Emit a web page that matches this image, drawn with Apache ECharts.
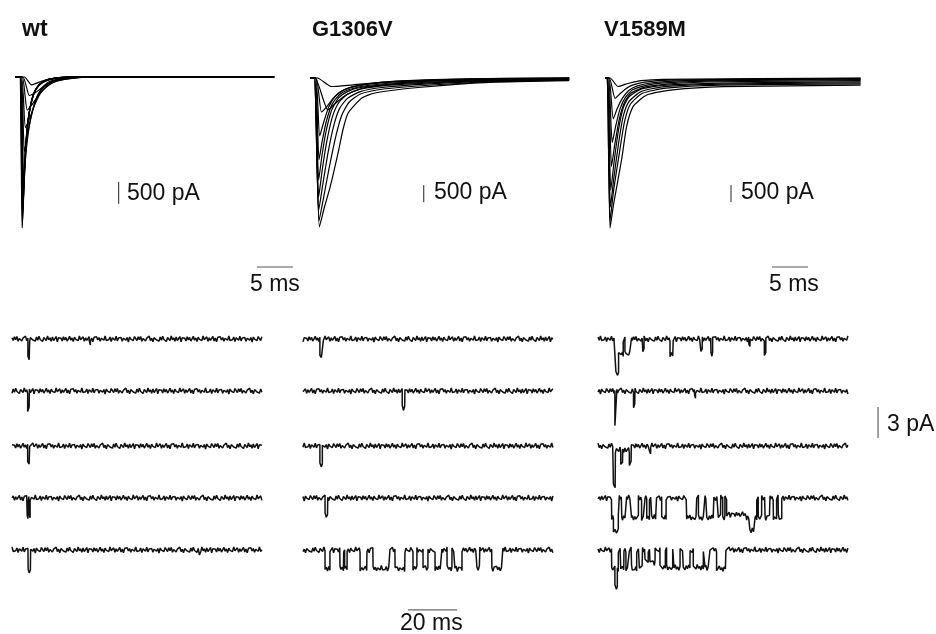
<!DOCTYPE html>
<html>
<head>
<meta charset="utf-8">
<script src="https://cdn.jsdelivr.net/npm/echarts@6/dist/echarts.min.js"></script>
<style>
  html, body { margin: 0; padding: 0; background: #fff; }
  #chart { width: 936px; height: 634px; }
</style>
</head>
<body>
<div id="chart"></div>
<script>
// ---- whole-cell current families, [time ms, current pA] ----
const wtFamily = [
  [[0,0],[0.65,0],[1.0,-3430],[1.3,-2100],[1.6,-1300],[2.1,-700],[2.8,-300],[4,-90],[6,-20],[9,0],[36,0]],
  [[0,0],[0.68,0],[1.02,-3380],[1.25,-2500],[1.5,-1600],[1.9,-900],[2.6,-380],[3.8,-110],[6,-20],[9,0],[36,0]],
  [[0,0],[0.7,0],[1.05,-3200],[1.35,-2000],[1.7,-1150],[2.2,-600],[3,-250],[4.5,-60],[7,0],[36,0]],
  [[0,0],[0.72,0],[1.08,-3050],[1.3,-2300],[1.6,-1450],[2.0,-800],[2.7,-330],[4,-90],[7,0],[36,0]],
  [[0,0],[0.75,0],[1.1,-2800],[1.4,-1800],[1.8,-1000],[2.4,-500],[3.2,-200],[5,-40],[8,0],[36,0]],
  [[0,0],[0.78,0],[1.15,-2550],[1.45,-1700],[1.85,-950],[2.5,-430],[3.4,-160],[5.5,-30],[8,0],[36,0]],
  [[0,0],[0.8,0],[1.2,-2300],[1.6,-1600],[2.1,-1000],[2.8,-550],[3.6,-280],[4.6,-120],[6.5,-30],[9,0],[36,0]],
  [[0,0],[0.85,0],[1.3,-1700],[1.8,-1250],[2.4,-800],[3.1,-450],[4,-230],[5.2,-100],[7,-30],[10,0],[36,0]],
  [[0,0],[0.9,0],[1.45,-1150],[2.0,-950],[2.7,-650],[3.5,-380],[4.5,-200],[6,-80],[8.5,-20],[11,0],[36,0]],
  [[0,0],[1.0,0],[1.7,-750],[2.4,-620],[3.2,-430],[4.2,-250],[5.4,-120],[7.5,-40],[10,0],[36,0]],
  [[0,0],[1.1,0],[2.0,-420],[2.8,-360],[3.7,-250],[4.8,-140],[6.3,-60],[9,-10],[12,0],[36,0]],
  [[0,0],[1.3,0],[2.3,-180],[3.0,-140],[4,-80],[5.5,-30],[8,0],[36,0]]
];
const g1306vFamily = [
  [[0,0],[0.6,0],[1.3,-4380],[2.0,-3800],[2.8,-3200],[3.9,-2200],[4.6,-1500],[5.3,-1030],[7.2,-590],[9,-440],[15,-280],[25,-130],[36,-80]],
  [[0,0],[0.6,0],[1.25,-4200],[1.9,-3500],[2.7,-2600],[3.6,-1700],[4.4,-1100],[5.4,-720],[7,-470],[10,-330],[16,-220],[25,-110],[36,-60]],
  [[0,0],[0.6,0],[1.2,-3900],[1.8,-3100],[2.5,-2200],[3.3,-1400],[4.1,-900],[5.2,-600],[7,-400],[10,-280],[16,-180],[25,-90],[36,-50]],
  [[0,0],[0.65,0],[1.2,-3500],[1.7,-2700],[2.3,-1900],[3.1,-1150],[4,-720],[5.2,-480],[7,-330],[10,-230],[16,-150],[25,-70],[36,-40]],
  [[0,0],[0.7,0],[1.2,-3000],[1.65,-2300],[2.2,-1600],[3.0,-950],[4,-580],[5.2,-400],[7,-280],[11,-190],[18,-110],[36,-30]],
  [[0,0],[0.75,0],[1.25,-2400],[1.7,-1850],[2.3,-1250],[3.1,-760],[4.2,-470],[5.6,-330],[8,-220],[12,-140],[20,-70],[36,-20]],
  [[0,0],[0.8,0],[1.35,-1700],[1.9,-1300],[2.6,-850],[3.5,-540],[4.7,-350],[6.5,-240],[9,-160],[14,-90],[36,-10]],
  [[0,0],[0.85,0],[1.6,-1000],[2.3,-850],[3.2,-600],[4.3,-400],[5.8,-260],[8,-170],[12,-90],[20,-30],[36,0]],
  [[0,0],[0.7,0],[2.5,-940],[3.5,-750],[5,-500],[7,-320],[9,-240],[14,-120],[22,-40],[36,0]],
  [[0,0],[1.0,0],[3,-250],[6,-200],[12,-100],[24,-20],[36,0]]
];
const v1589mFamily = [
  [[0,0],[0.3,0],[0.7,-4410],[1.2,-3700],[2.3,-2410],[3.0,-1430],[3.9,-840],[5.8,-500],[9.4,-350],[16.4,-255],[35.5,-210]],
  [[0,0],[0.3,0],[0.7,-4200],[1.2,-3300],[2.0,-2200],[2.7,-1300],[3.5,-780],[5.2,-450],[8.5,-300],[16,-210],[35.5,-170]],
  [[0,0],[0.35,0],[0.75,-3800],[1.25,-2900],[1.9,-1900],[2.5,-1150],[3.3,-700],[5,-400],[8,-260],[16,-180],[35.5,-140]],
  [[0,0],[0.4,0],[0.8,-3300],[1.3,-2400],[1.9,-1500],[2.5,-900],[3.3,-560],[5,-330],[8,-220],[16,-150],[35.5,-110]],
  [[0,0],[0.45,0],[0.9,-2600],[1.4,-1900],[2.0,-1200],[2.7,-720],[3.6,-450],[5.5,-270],[9,-170],[16,-110],[35.5,-80]],
  [[0,0],[0.5,0],[1.0,-1900],[1.5,-1400],[2.1,-900],[2.9,-550],[3.9,-340],[6,-200],[10,-120],[20,-70],[35.5,-50]],
  [[0,0],[0.55,0],[1.15,-1200],[1.7,-900],[2.4,-600],[3.3,-370],[4.5,-230],[7,-130],[12,-70],[35.5,-30]],
  [[0,0],[0.6,0],[1.4,-600],[2.0,-480],[2.8,-330],[3.8,-210],[5.5,-120],[9,-60],[35.5,-10]],
  [[0,0],[0.7,0],[1.8,-250],[2.6,-200],[3.6,-140],[5,-80],[8,-40],[35.5,0]]
];

// ---- single-channel sweeps: openings as [start ms, end ms, amplitude pA] ----
const wtOpenings = [
  [[6.5,7.2,1.75],[31.5,32.0,0.4]],
  [[6.4,7.1,1.75]],
  [[6.4,7.2,1.7]],
  [[6.2,6.7,1.9],[6.9,7.4,1.7]],
  [[6.6,7.6,2.0],[76.5,77.1,0.5]]
];
const g1306vOpenings = [
  [[6.9,8.3,1.75]],
  [[40.5,41.6,1.6]],
  [[6.9,7.9,1.8]],
  [[9.0,10.1,1.7]],
  [[9.0,11.0,1.8],[15.1,16.6,1.8],[17.0,18.0,1.8],[23.3,26.1,1.8],[28.6,35.5,1.8],[37.6,41.6,1.8],
   [44.9,46.5,1.8],[49.0,51.0,1.8],[53.9,56.7,1.8],[58.8,60.8,1.8],[62.0,64.9,1.8],[71.0,72.2,1.8],[77.1,81.6,1.8]]
];
const v1589mOpenings = [
  [[7.3,10.3,1.4],[7.3,8.4,1.9],[11.0,13.7,1.4],[18.3,18.8,1.2],[29.4,30.7,1.5],[42.0,42.6,1.2],[46.1,46.8,1.4],[61.6,62.1,0.7],[67.9,68.5,1.4]],
  [[6.9,7.7,3.4],[14.5,15.1,1.5],[39.4,39.8,0.5]],
  [[6.3,7.1,3.8],[7.1,12.8,0.4],[9.3,10.1,1.3],[12.8,13.6,1.6],[21.0,21.5,0.6]],
  [[5.6,8.7,1.9],[6.3,8.3,1.3],[9.7,11.7,1.9],[13.7,16.5,1.9],[17.8,19.2,1.9],[19.9,21.0,1.9],[21.9,23.9,1.9],[26.0,27.8,1.9],
   [36.2,40.3,1.9],[41.0,43.7,1.9],[44.4,47.3,1.9],[49.1,50.1,1.9],[50.9,51.8,1.9],[52.5,60.7,1.6],[60.7,64.8,1.9],[62.0,64.1,1.3],
   [65.4,66.8,1.9],[68.2,70.2,1.9],[71.6,72.9,1.9],[73.6,75.0,1.9]],
  [[5.6,8.3,1.8],[6.9,7.9,1.8],[9.3,10.6,1.8],[11.4,12.8,1.8],[13.7,15.8,1.8],[16.9,18.2,1.8],[19.2,20.5,1.0],[21.2,23.3,1.2],
   [25.3,27.5,1.7],[28.0,30.5,1.7],[31.0,33.5,1.7],[34.8,37.6,1.7],[38.9,43.0,1.7],[43.7,45.7,1.7],[48.4,52.2,1.8]]
];
const noisePA = [
  0.12,-0.15,0.21,-0.06,0.25,-0.22,0.05,0.16,-0.19,0.09,
  -0.03,0.28,-0.16,0.08,-0.26,0.13,0.23,-0.10,0.03,-0.21,
  0.19,-0.12,0.26,-0.05,0.10,-0.24,0.15,0.01,-0.14,0.30,
  -0.08,0.12,-0.23,0.20,-0.15,0.04,0.24,-0.28,0.13,-0.02,
  0.08,-0.19,0.22,-0.09,0.15,-0.20,0.02,0.26,-0.12,0.10,
  -0.25,0.18,-0.04,0.13,-0.16,0.29,-0.07,0.00,0.21,-0.23,
  0.11,-0.14,0.05,0.24,-0.19,0.09,-0.27,0.16,-0.03,0.22,
  -0.10,0.14,-0.21,0.07,0.19,-0.12,0.30,-0.15,0.02,-0.08,
  0.20,-0.24,0.12,0.04,-0.13,0.26,-0.18,0.10,-0.05,0.15,
  -0.22,0.07,0.23,-0.11,0.14,-0.29,0.19,-0.02,0.09,-0.16,0.24
];
const sweepLength = 102; // ms
const titles = ['wt', 'G1306V', 'V1589M'];
const currentBar = 500;  // pA
const topTimeBar = 5;    // ms
const sweepTimeBar = 20; // ms
const channelBar = 3;    // pA

// ---- layout ----
const msPxTop = 7.2;
const topPanels = [
  { x0: 15, base: 77, pApx: 22.7, family: wtFamily, bar: [14.4, -2380], timeBar: [33.6, -4313] },
  { x0: 310, base: 78, pApx: 29.4, family: g1306vFamily, bar: [15.8, -3150] },
  { x0: 605, base: 78, pApx: 29.4, family: v1589mFamily, bar: [17.5, -3150], timeBar: [23.2, -5557] }
];
const msPxBottom = 2.45, pApxBottom = 1 / 10.33;
const sweepBases = [339, 391, 446, 498, 550];
const bottomPanels = [
  { x0: 12, sweeps: wtOpenings },
  { x0: 303, sweeps: g1306vOpenings, timeBar: [4, 42.9, -5.8] },
  { x0: 598, sweeps: v1589mOpenings, channelBar: [1, 114.3, -1.55] }
];

const grids = [], xAxis = [], yAxis = [], series = [];
function addGrid(left, top, width, height, xMax, yMin, yMax) {
  const i = grids.length;
  grids.push({ left, top, width, height });
  xAxis.push({ type: 'value', gridIndex: i, min: 0, max: xMax, show: false });
  yAxis.push({ type: 'value', gridIndex: i, min: yMin, max: yMax, show: false });
  return i;
}
function addLine(gi, data, width, color) {
  series.push({
    type: 'line', xAxisIndex: gi, yAxisIndex: gi, data, showSymbol: false, silent: true,
    smooth: 0.2, lineStyle: { color: color || '#000', width: width || 1 }
  });
}

topPanels.forEach(p => {
  const yMax = 200, yMin = -6000, xMax = 40;
  const gi = addGrid(p.x0, p.base - yMax / p.pApx, xMax * msPxTop, (yMax - yMin) / p.pApx, xMax, yMin, yMax);
  p.family.forEach(tr => addLine(gi, tr, 1.2));
  series.push({ type: 'line', xAxisIndex: gi, yAxisIndex: gi, showSymbol: false, silent: true,
    data: [[p.bar[0], p.bar[1]], [p.bar[0], p.bar[1] - currentBar]], lineStyle: { color: '#222', width: 1 } });
  if (p.timeBar) {
    series.push({ type: 'line', xAxisIndex: gi, yAxisIndex: gi, showSymbol: false, silent: true,
      data: [[p.timeBar[0], p.timeBar[1]], [p.timeBar[0] + topTimeBar, p.timeBar[1]]], lineStyle: { color: '#555', width: 1 } });
  }
});

function sweep(openings, phase) {
  const times = [];
  for (let k = 0; k <= sweepLength * 2; k++) times.push(k * 0.5);
  openings.forEach(([a, b]) => times.push(a - 0.01, a, b - 0.01, b));
  times.sort((p, q) => p - q);
  return times.map(t => {
    let v = noisePA[(Math.round(t * 2) + phase) % noisePA.length];
    openings.forEach(([a, b, d]) => { if (t >= a && t < b) v -= d; });
    return [t, +v.toFixed(3)];
  });
}

bottomPanels.forEach((p, pi) => {
  p.sweeps.forEach((ops, si) => {
    const yMax = 1, yMin = -7, xMax = 120;
    const gi = addGrid(p.x0, sweepBases[si] - yMax / pApxBottom, xMax * msPxBottom, (yMax - yMin) / pApxBottom, xMax, yMin, yMax);
    series.push({ type: 'line', xAxisIndex: gi, yAxisIndex: gi, showSymbol: false, silent: true,
      data: sweep(ops, pi * 37 + si * 19), lineStyle: { color: '#111', width: 1.5 } });
    if (p.timeBar && p.timeBar[0] === si) {
      series.push({ type: 'line', xAxisIndex: gi, yAxisIndex: gi, showSymbol: false, silent: true,
        data: [[p.timeBar[1], p.timeBar[2]], [p.timeBar[1] + sweepTimeBar, p.timeBar[2]]], lineStyle: { color: '#444', width: 1 } });
    }
    if (p.channelBar && p.channelBar[0] === si) {
      series.push({ type: 'line', xAxisIndex: gi, yAxisIndex: gi, showSymbol: false, silent: true,
        data: [[p.channelBar[1], p.channelBar[2]], [p.channelBar[1], p.channelBar[2] - channelBar]], lineStyle: { color: '#444', width: 1 } });
    }
  });
});

const labelFont = { fontFamily: 'Liberation Sans, Arial, sans-serif', fontSize: 23, fill: '#111', verticalAlign: 'middle' };
function text(x, y, str, extra) {
  return { type: 'text', x, y, silent: true, style: Object.assign({ text: str }, labelFont, extra || {}) };
}
const graphic = [
  text(22, 30, titles[0], { fontWeight: 'bold', fontSize: 23 }),
  text(312, 30, titles[1], { fontWeight: 'bold', fontSize: 22 }),
  text(604, 30, titles[2], { fontWeight: 'bold', fontSize: 22 }),
  text(127, 194, currentBar + ' pA'),
  text(434, 193, currentBar + ' pA'),
  text(741, 193, currentBar + ' pA'),
  text(250, 285, topTimeBar + ' ms'),
  text(769, 285, topTimeBar + ' ms'),
  text(400, 624, sweepTimeBar + ' ms'),
  text(887, 425, channelBar + ' pA')
];

const chart = echarts.init(document.getElementById('chart'));
chart.setOption({
  animation: false,
  backgroundColor: '#fff',
  grid: grids,
  xAxis,
  yAxis,
  series,
  graphic
});
</script>
</body>
</html>
